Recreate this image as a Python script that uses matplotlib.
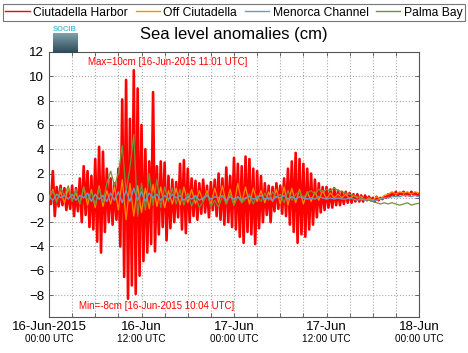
import numpy as np
import pandas as pd
import matplotlib
matplotlib.use('Agg')
import matplotlib.pyplot as plt
from matplotlib.lines import Line2D

plt.rcParams['font.family'] = ['Liberation Sans', 'DejaVu Sans']

# Sea level anomalies (cm)
# Ciutadella Harbor: one value every 15 min, 16-Jun 00:00 -> 18-Jun 00:00
harbor = [
    0.2, -0.5, 2.2, -1.5,   0.9, -0.7, 1.0, -0.6,   0.8, -1.0, 0.5, -0.9,
    1.0, -1.5, 0.8, -1.1,   1.6, -2.0, 2.6, -1.4,   2.2, -2.4, 1.8, -2.6,
    3.2, -3.6, 4.2, -4.5,   3.8, -2.8, 2.4, -2.0,   1.6, -2.2, 1.2, -1.8,
    2.4, -4.0, 8.1, -6.5,   9.7, -8.3, 6.5, -7.2,   10.5, -7.9, 9.0, -6.4,
    6.0, -5.2, 4.0, -4.5,   3.0, -3.8, 8.7, -4.4,   2.6, -3.0, 3.0, -2.4,
    2.9, -3.5, 1.8, -2.5,   1.5, -2.0, 1.3, -1.6,   2.8, -2.6, 3.1, -2.9,
    2.4, -2.0, 1.6, -1.5,   1.4, -1.8, 1.2, -1.3,   1.5, -1.2, 1.0, -1.6,
    1.3, -1.0, 1.5, -1.5,   2.0, -1.8, 1.6, -2.2,   2.5, -2.0, 1.8, -2.4,
    3.3, -2.6, 2.8, -3.2,   2.6, -3.7, 3.4, -2.8,   3.2, -3.0, 2.4, -3.8,
    2.2, -2.5, 1.8, -2.0,   1.2, -1.4, 1.0, -2.0,   0.9, -1.1, 1.2, -0.9,
    1.0, -1.3, 1.6, -1.5,   2.4, -2.2, 3.0, -2.8,   3.7, -3.7, 3.2, -3.0,
    2.8, -3.2, 2.4, -2.6,   2.0, -2.2, 1.5, -1.6,   1.2, -1.2, 0.9, -1.0,
    0.9, -0.8, 0.7, -0.8,   0.8, -0.6, 0.6, -0.6,   0.5, -0.5, 0.5, -0.4,
    0.4, -0.4, 0.3, -0.3,   0.3, -0.3, 0.2, -0.3,   0.2, -0.2, 0.1, -0.2,
    0.0, -0.3, 0.1, -0.2,   0.0, -0.1, 0.1, 0.0,    0.3, 0.1, 0.4, 0.2,
    0.5, 0.2, 0.4, 0.3,     0.5, 0.2, 0.4, 0.2,     0.5, 0.3, 0.4, 0.2,
    0.3,
]

# other stations: one value every 30 min
off_ciutadella = [
    0.0, 0.7, -0.3, 0.5,   -0.4, 0.8, -0.2, 0.4,   -0.5, 0.9, -0.6, 0.7,
    -0.8, 1.0, -0.7, 0.6,  -0.5, 0.9, -1.0, 1.5,   -1.8, 1.2, -1.5, 1.0,
    -1.2, 0.8, -0.9, 1.1,  -0.7, 0.9, -0.8, 0.6,   -0.5, 0.8, -0.6, 0.9,
    -0.4, 0.7, -0.5, 0.6,  -0.3, 0.6, -0.6, 0.8,   -0.4, 1.0, -0.5, 0.7,
    -0.6, 1.2, -0.4, 0.9,  -0.5, 0.8, -0.3, 0.6,   -0.4, 0.5, -0.3, 0.7,
    -0.5, 0.9, -0.6, 0.8,  -0.4, 0.7, -0.5, 0.5,   -0.3, 0.5, -0.2, 0.6,
    -0.1, 0.4, 0.0, 0.3,   0.0, 0.3, -0.1, 0.2,    0.0, 0.1, -0.2, 0.0,
    -0.2, 0.1, -0.1, 0.2,  0.3, 0.5, 0.3, 0.5,     0.4, 0.5, 0.3, 0.5,
    0.4,
]

menorca_channel = [
    0.1, -0.2, 0.3, 0.0,   0.2, -0.1, 0.3, -0.2,   0.2, 0.0, 0.4, -0.3,
    0.3, -0.1, 0.2, -0.3,  0.4, -0.2, 0.5, -0.4,   0.6, -0.3, 0.8, -0.2,
    0.5, -0.3, 0.4, 0.0,   0.3, -0.2, 0.2, -0.1,   0.3, 0.0, 0.2, -0.2,
    0.1, -0.1, 0.2, -0.2,  0.0, 0.2, -0.1, 0.1,    0.0, 0.2, -0.2, 0.1,
    -0.1, 0.1, -0.2, 0.0,  0.1, -0.1, 0.0, 0.2,    -0.1, 0.0, -0.2, 0.1,
    0.0, 0.2, -0.1, 0.1,   -0.1, 0.1, 0.0, -0.1,   0.0, -0.1, 0.1, 0.0,
    -0.1, 0.0, -0.1, 0.0,  -0.1, -0.1, 0.0, -0.1,  -0.2, -0.1, -0.2, -0.1,
    -0.2, -0.2, -0.1, 0.0, 0.0, 0.1, 0.1, 0.1,     0.2, 0.2, 0.1, 0.2,
    0.1,
]

palma_bay = [
    -0.2, 0.6, -0.4, 0.8,  0.2, 1.0, -0.3, 0.7,    -0.5, 0.9, -0.2, 0.5,
    -0.6, 0.8, -0.4, 1.2,  2.2, 1.0, 2.0, 4.3,     0.5, 2.5, 5.2, -1.5,
    1.2, -1.0, 2.0, -0.6,  1.5, -0.8, 0.9, -0.3,   0.8, -0.5, 0.7, -0.6,
    0.4, -0.7, 0.2, -0.8,  -0.3, 0.4, -0.7, -0.2,  -0.8, 0.2, -0.5, 0.3,
    -0.6, 0.1, -0.4, -0.1, 0.3, -0.5, 0.2, -0.3,   0.4, -0.2, 0.5, 0.0,
    0.3, -0.4, 0.6, -0.2,  0.3, 0.5, 0.0, 0.4,     0.6, 0.3, 0.7, 0.5,
    0.7, 0.6, 0.8, 0.6,    0.5, 0.4, 0.3, 0.2,     0.1, -0.1, -0.1, -0.2,
    -0.3, -0.4, -0.5, -0.4, -0.5, -0.4, -0.5, -0.6, -0.5, -0.4, -0.6, -0.5,
    -0.45,
]

names = ['Ciutadella Harbor', 'Off Ciutadella', 'Menorca Channel', 'Palma Bay']
colors = ['#ff0000', '#ff8c00', '#7096c2', '#74913c']

start = pd.Timestamp('2015-06-16 00:00')
end = pd.Timestamp('2015-06-18 00:00')
t15 = start + pd.to_timedelta(np.arange(len(harbor)) * 15, unit='min')
t30 = start + pd.to_timedelta(np.arange(len(off_ciutadella)) * 30, unit='min')

tick_times = pd.date_range(start, end, freq='12h')
tick_top = ['16-Jun-2015', '16-Jun', '17-Jun', '17-Jun', '18-Jun']
tick_bottom = ['00:00 UTC', '12:00 UTC', '00:00 UTC', '12:00 UTC', '00:00 UTC']

fig = plt.figure(figsize=(4.68, 3.53), dpi=100)
ax = fig.add_axes([49 / 468, 1 - 317 / 353, 370 / 468, 265 / 353])

ax.plot(t15, harbor, color=colors[0], lw=1.9, zorder=2)
ax.plot(t30, off_ciutadella, color=colors[1], lw=0.9, zorder=3)
ax.plot(t30, palma_bay, color=colors[3], lw=0.9, zorder=4)
ax.plot(t30, menorca_channel, color=colors[2], lw=1.0, zorder=5)

ax.set_xlim(start, end)
ax.set_ylim(-9.8, 12)
ax.set_yticks(np.arange(-8, 13, 2))
ax.set_xticks(pd.date_range(start, end, freq='3h'))
ax.tick_params(direction='in', top=True, right=True, length=3, width=0.6,
               labelbottom=False, labelsize=9.5, colors='#555555',
               labelcolor='black')
ax.grid(True, ls=':', color='#aaaaaa', lw=0.8)
for s in ax.spines.values():
    s.set_color('#555555')

# two-line time labels
for tt, a, b in zip(tick_times, tick_top, tick_bottom):
    ax.text(tt, -0.038, a, transform=ax.get_xaxis_transform(), ha='center',
            va='center', fontsize=9.5)
    ax.text(tt, -0.083, b, transform=ax.get_xaxis_transform(), ha='center',
            va='center', fontsize=7.2)

ax.text(0.105, 0.962, 'Max=10cm [16-Jun-2015 11:01 UTC]', transform=ax.transAxes,
        color='#ff0000', fontsize=7, va='center', ha='left')
ax.text(0.081, 0.042, 'Min=-8cm [16-Jun-2015 10:04 UTC]', transform=ax.transAxes,
        color='#ff0000', fontsize=7, va='center', ha='left')

fig.text(0.5, 1 - 35 / 353, 'Sea level anomalies (cm)', ha='center', va='center',
         fontsize=12)

# small SOCIB logo
logo = fig.add_axes([53 / 468, 1 - 53 / 353, 25 / 468, 20 / 353])
logo.imshow(np.linspace(0, 1, 20).reshape(-1, 1), cmap=matplotlib.colors.LinearSegmentedColormap.from_list(
    'socib', ['#7f9faa', '#2c4a58']), aspect='auto')
logo.axis('off')
fig.text(65 / 468, 1 - 29.5 / 353, 'SOCIB', color='#55c3d6', fontsize=5.5,
         ha='center', va='center', fontweight='bold')

handles = [Line2D([], [], color=c, lw=1.0) for c in colors]
leg = fig.legend(handles, names, ncol=4, loc='lower left', mode='expand',
                 bbox_to_anchor=(3 / 468, 1 - 21 / 353, 462 / 468, 18 / 353),
                 fontsize=8.7, frameon=True, fancybox=False, handlelength=2.0,
                 handletextpad=0.3, borderpad=0.2, borderaxespad=0,
                 columnspacing=0.6)
leg.get_frame().set_edgecolor('#555555')
leg.get_frame().set_linewidth(0.8)

fig.savefig('out.png', dpi=100)
